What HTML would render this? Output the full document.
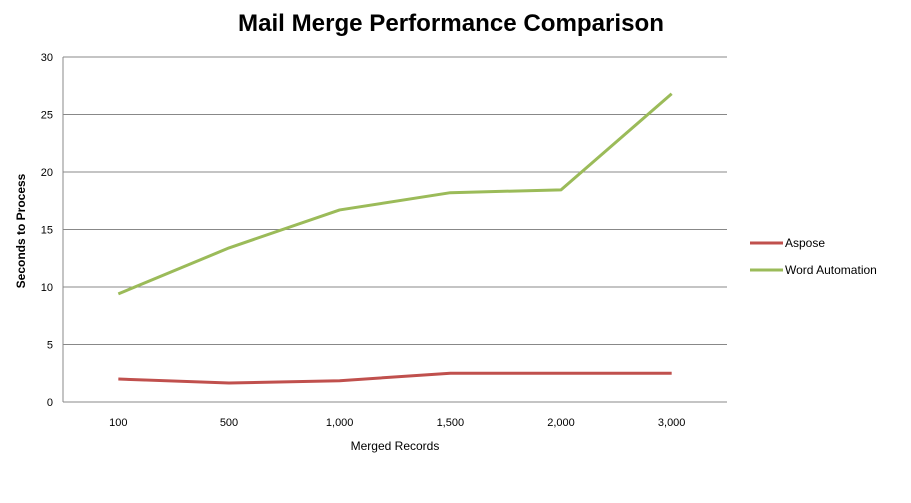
<!DOCTYPE html>
<html><head><meta charset="utf-8"><style>
body{margin:0;background:#fff;}
svg text{font-family:"Liberation Sans",sans-serif;}
</style></head><body>
<svg width="911" height="498" xmlns="http://www.w3.org/2000/svg">
<text x="451" y="31" text-anchor="middle" font-size="24" font-weight="bold" fill="#000" textLength="426" lengthAdjust="spacingAndGlyphs">Mail Merge Performance Comparison</text>
<g id="grid"></g><g id="series"></g>
<text x="395" y="450" text-anchor="middle" font-size="12" fill="#000">Merged Records</text>
<text transform="translate(25,231) rotate(-90)" text-anchor="middle" font-size="12" font-weight="bold" fill="#000">Seconds to Process</text>
<g>
<line x1="750" y1="243" x2="783" y2="243" stroke="#c0504d" stroke-width="3"/>
<text x="785" y="247" font-size="12">Aspose</text>
<line x1="750" y1="270" x2="783" y2="270" stroke="#9bbb59" stroke-width="3"/>
<text x="785" y="274" font-size="12">Word Automation</text>
</g>
</svg>
<script>
const categories=["100","500","1,000","1,500","2,000","3,000"];
const aspose=[2.0,1.65,1.85,2.5,2.5,2.5];
const wordAuto=[9.4,13.4,16.7,18.2,18.45,26.8];
const yTicks=[0,5,10,15,20,25,30];
const NS="http://www.w3.org/2000/svg";
const L=63,R=727,T=57,B=402,YMAX=30;
const xs=i=>L+(R-L)/categories.length*(i+0.5);
const ys=v=>B-(B-T)*v/YMAX;
const g=document.getElementById('grid'),s=document.getElementById('series');
function mk(tag,at,p){const e=document.createElementNS(NS,tag);for(const k in at)e.setAttribute(k,at[k]);p.appendChild(e);return e;}
yTicks.forEach(v=>{
 const l=mk('line',{x1:L,x2:R,y1:ys(v),y2:ys(v),stroke:'#888','stroke-width':1},g);
 
 
 const t=mk('text',{x:L-10,y:ys(v)+4,'text-anchor':'end','font-size':11},g);t.textContent=v;
 
 
});
const ax=mk('line',{x1:L,x2:L,y1:T,y2:B,stroke:'#888'},g);


categories.forEach((c,i)=>{
 const t=mk('text',{x:xs(i),y:426,'text-anchor':'middle','font-size':11},g);t.textContent=c;
 
 
});
[[aspose,'#c0504d','aspose-line'],[wordAuto,'#9bbb59','word-automation-line']].forEach(([d,c,n])=>{
 const p=mk('polyline',{points:d.map((v,i)=>xs(i)+','+ys(v)).join(' '),fill:'none',stroke:c,'stroke-width':3,'stroke-linejoin':'round'},s);
 
 
});
</script>
</body></html>
